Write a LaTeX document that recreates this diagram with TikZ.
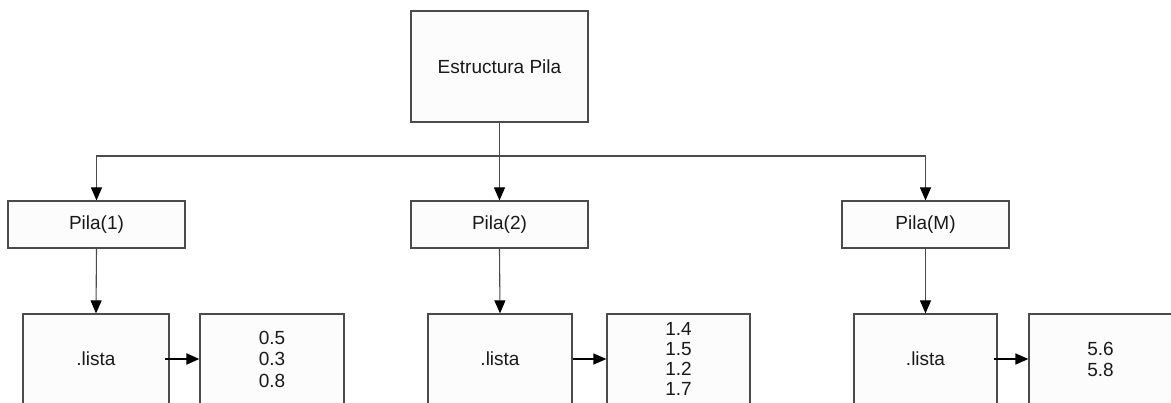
\documentclass[tikz,border=0pt]{standalone}
\usepackage{fontspec}
\setmainfont{Liberation Sans}
\usetikzlibrary{arrows.meta}
\definecolor{edge}{RGB}{75,75,75}
\definecolor{boxfill}{RGB}{252,252,252}
\definecolor{txt}{RGB}{25,25,25}
\tikzset{
  box/.style={draw=edge, line width=1.2pt, fill=boxfill, inner sep=0pt,
    text=txt, font=\fontsize{19}{20}\selectfont, align=center},
  wire/.style={draw=edge, line width=1.1pt},
  arr/.style={wire, -{Triangle[length=13pt,width=11pt,color=black]}},
  harr/.style={draw=black, line width=1.2pt, -{Triangle[length=13pt,width=11pt]}},
  harrb/.style={draw=black, line width=2pt, -{Triangle[length=13pt,width=11pt]}}
}
\begin{document}
\begin{tikzpicture}[x=1pt,y=-1pt]
\useasboundingbox (0,0) rectangle (1171,402);
\clip (0,0) rectangle (1171,402);
\node[box, minimum width=177pt, minimum height=111pt] (E) at (499.5,66.5) {Estructura Pila};
\node[box, minimum width=177pt, minimum height=47pt] (P1) at (96.5,224.5) {Pila(1)};
\node[box, minimum width=177pt, minimum height=47pt] (P2) at (499.5,224.5) {Pila(2)};
\node[box, minimum width=167pt, minimum height=47pt] (PM) at (925.5,224.5) {Pila(M)};
\node[box, minimum width=146pt, minimum height=90pt] (L1) at (96,359) {.lista};
\node[box, minimum width=144pt, minimum height=90pt] (L2) at (500,359) {.lista};
\node[box, minimum width=143pt, minimum height=90pt] (L3) at (925.5,359) {.lista};
\node[box, minimum width=144pt, minimum height=90pt, font=\fontsize{19}{21.5}\selectfont] (V1) at (272,359) {0.5\\0.3\\0.8};
\node[box, minimum width=143pt, minimum height=90pt] (V2) at (678.5,359) {1.4\\1.5\\1.2\\1.7};
\node[box, minimum width=143pt, minimum height=90pt, font=\fontsize{19}{21}\selectfont] (V3) at (1100.5,359) {5.6\\5.8};
\coordinate (bus) at (499.5,156);
\draw[wire] (E.south) -- (bus);
\draw[arr] (bus) -- (P2.north);
\draw[arr] (bus) -| (P1.north);
\draw[arr] (bus) -| (PM.north);
\draw[arr] (P1.south) -- (L1.north);
\draw[arr] (P2.south) -- (L2.north);
\draw[arr] (PM.south) -- (L3.north);
\draw[harrb] ([xshift=-5pt]L1.east) -- (V1.west);
\draw[harr] (L2.east) -- (V2.west);
\draw[harr] ([xshift=-4pt]L3.east) -- (V3.west);
\end{tikzpicture}
\end{document}
